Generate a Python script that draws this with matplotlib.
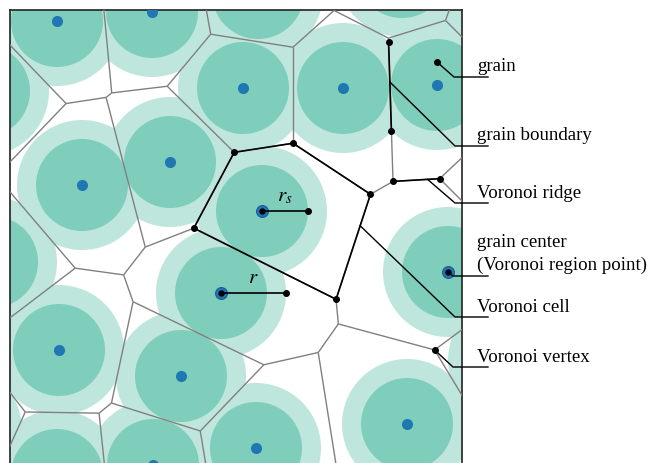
import numpy as np
import matplotlib.pyplot as plt
import matplotlib.tri as mtri
from matplotlib.collections import LineCollection
from matplotlib.patches import Circle

# grain centres, in pixel-like units (y grows downwards).
# the last nine lie outside the frame but still shape the ridges
grain_x = [57, 152, 243, 343, 437, 170, 82, 262, 221, 448, 59, 181, 407, 256, 153,
           402, -16, -8, 57, 513, 510, -43, 258, 533]
grain_y = [21, 12, 88, 88, 85, 162, 185, 211, 293, 272, 350, 376, 424, 448, 465,
           -28, 91, 262, 475, 360, 12, 430, -7, 187]
r_outer = 65   # grain radius r
r_inner = 46   # core radius r_s

# which grains the callouts refer to
cell_grain = 7            # highlighted Voronoi cell / r_s
r_grain = 8               # grain with the r arrow
boundary_pair = (3, 4)    # grain boundary
ridge_pair = (4, 9)       # Voronoi ridge
center_grain = 9          # grain center
vertex_triple = (9, 12, 19)
pick_grain = 4            # "grain"

labels = ["grain", "grain boundary", "Voronoi ridge",
          "grain center", "Voronoi cell", "Voronoi vertex"]

LIGHT = "#bfe6dc"
DARK = "#7fcdbb"
BLUE = "#1f77b4"
GRAY = "#808080"

plt.rcParams["font.family"] = "Liberation Serif"
plt.rcParams["mathtext.fontset"] = "stix"

pts = np.column_stack([grain_x, grain_y]).astype(float)
tri = mtri.Triangulation(pts[:, 0], pts[:, 1])


def circumcenter(a, b, c):
    ax_, ay = a
    bx, by = b
    cx, cy = c
    d = 2 * (ax_ * (by - cy) + bx * (cy - ay) + cx * (ay - by))
    ux = ((ax_**2 + ay**2) * (by - cy) + (bx**2 + by**2) * (cy - ay)
          + (cx**2 + cy**2) * (ay - by)) / d
    uy = ((ax_**2 + ay**2) * (cx - bx) + (bx**2 + by**2) * (ax_ - cx)
          + (cx**2 + cy**2) * (bx - ax_)) / d
    return np.array([ux, uy])


centers = np.array([circumcenter(*pts[t]) for t in tri.triangles])

# voronoi ridges = dual of the delaunay edges
segments = []
for i, t in enumerate(tri.triangles):
    for j in range(3):
        n = tri.neighbors[i, j]
        a, b, c = t[j], t[(j + 1) % 3], t[(j + 2) % 3]
        if n > i:
            segments.append([centers[i], centers[n]])
        elif n == -1:
            e = pts[b] - pts[a]
            normal = np.array([e[1], -e[0]])
            if np.dot(normal, pts[c] - pts[a]) > 0:
                normal = -normal
            normal /= np.linalg.norm(normal)
            segments.append([centers[i], centers[i] + normal * 3000])


def cell(k):
    ids = [i for i, t in enumerate(tri.triangles) if k in t]
    cc = centers[ids]
    ang = np.arctan2(cc[:, 1] - pts[k, 1], cc[:, 0] - pts[k, 0])
    return cc[np.argsort(ang)]


def ridge(i, j):
    ids = [n for n, t in enumerate(tri.triangles) if i in t and j in t]
    return centers[ids[0]], centers[ids[1]]


def chord(i, j, r):
    p, q = pts[i], pts[j]
    d = np.linalg.norm(q - p)
    u = (q - p) / d
    perp = np.array([-u[1], u[0]])
    h = np.sqrt(r**2 - (d / 2) ** 2)
    mid = (p + q) / 2
    return mid - perp * h, mid + perp * h


fig = plt.figure(figsize=(6.52, 4.63), dpi=100)
ax = fig.add_axes([10 / 652, 0, 452 / 652, 453 / 463])
ax.set_xlim(10, 462)
ax.set_ylim(463, 10)
ax.set_xticks([])
ax.set_yticks([])
ax.spines["bottom"].set_visible(False)
for s in ax.spines.values():
    s.set_linewidth(1.2)
    s.set_color("#222222")

for x, y in pts:
    ax.add_patch(Circle((x, y), r_outer, fc=LIGHT, ec="none", zorder=1))
for x, y in pts:
    ax.add_patch(Circle((x, y), r_inner, fc=DARK, ec="none", zorder=2))

ax.add_collection(LineCollection(segments, colors=GRAY, linewidths=1.0, zorder=3))

# highlighted cell
poly = cell(cell_grain)
closed = np.vstack([poly, poly[:1]])
ax.plot(closed[:, 0], closed[:, 1], color="black", lw=1.2, zorder=4)
ax.plot(poly[:, 0], poly[:, 1], "o", color="black", ms=4, zorder=6)

# grain boundary and ridge
gb0, gb1 = chord(*boundary_pair, r_outer)
ax.plot([gb0[0], gb1[0]], [gb0[1], gb1[1]], color="black", lw=1.2, zorder=4)
ax.plot([gb0[0], gb1[0]], [gb0[1], gb1[1]], "o", color="black", ms=4, zorder=6)
rd0, rd1 = ridge(*ridge_pair)
if rd0[0] > rd1[0]:
    rd0, rd1 = rd1, rd0
ax.plot([rd0[0], rd1[0]], [rd0[1], rd1[1]], color="black", lw=1.2, zorder=4)
ax.plot([rd0[0], rd1[0]], [rd0[1], rd1[1]], "o", color="black", ms=4, zorder=6)

vtx = circumcenter(*pts[list(vertex_triple)])
ax.plot(vtx[0], vtx[1], "o", color="black", ms=4, zorder=6)

# grain centres
ax.plot(pts[:, 0], pts[:, 1], "o", color=BLUE, ms=8, mec="none", zorder=5)
for k in (cell_grain, r_grain, center_grain):
    ax.plot(pts[k, 0], pts[k, 1], "o", color=BLUE, ms=8.5, mec="#1a5a96", mew=0.8, zorder=5)
    ax.plot(pts[k, 0], pts[k, 1], "o", color="black", ms=3.6, zorder=7)

# r_s and r
cx, cy = pts[cell_grain]
ax.plot([cx, cx + r_inner], [cy, cy], color="black", lw=1.2, zorder=6)
ax.plot(cx + r_inner, cy, "o", color="black", ms=4, zorder=6)
ax.text(cx + 23, cy - 10, r"$r_s$", fontsize=15, ha="center", va="baseline", zorder=8)
cx, cy = pts[r_grain]
ax.plot([cx, cx + r_outer], [cy, cy], color="black", lw=1.2, zorder=6)
ax.plot(cx + r_outer, cy, "o", color="black", ms=4, zorder=6)
ax.text(cx + 32, cy - 10, r"$r$", fontsize=15, ha="center", va="baseline", zorder=8)

# callouts
grain_pick = pts[pick_grain] + np.array([0, -0.5 * r_inner])
ax.plot(*grain_pick, "o", color="black", ms=4, zorder=6)
cell_a = closed[np.argmax(closed[:-1, 0])]
idx = int(np.argmax(poly[:, 0]))
cell_b = poly[(idx + 1) % len(poly)] if poly[(idx + 1) % len(poly)][1] > poly[idx][1] else poly[idx - 1]
starts = [
    grain_pick,
    gb0 + 0.45 * (gb1 - gb0),
    rd0 + 0.74 * (rd1 - rd0),
    pts[center_grain],
    cell_a + 0.3 * (cell_b - cell_a),
    vtx,
]
elbow_x = [454, 455, 455, 453, 455, 453]
elbow_y = [77, 146, 203, 276, 317, 367]
for (sx, sy), ex, ey in zip(starts, elbow_x, elbow_y):
    ax.plot([sx, ex, 488], [sy, ey, ey], color="black", lw=1.0,
            zorder=6, clip_on=False)

text_y = [70.5, 140, 198, 246.5, 312, 362]
for lab, ty in zip(labels, text_y):
    ax.text(477, ty, lab, fontsize=13.6, va="baseline", ha="left")
ax.text(477, 270, "(Voronoi region point)", fontsize=13.6, va="baseline", ha="left")

fig.savefig("out.png", dpi=100)
